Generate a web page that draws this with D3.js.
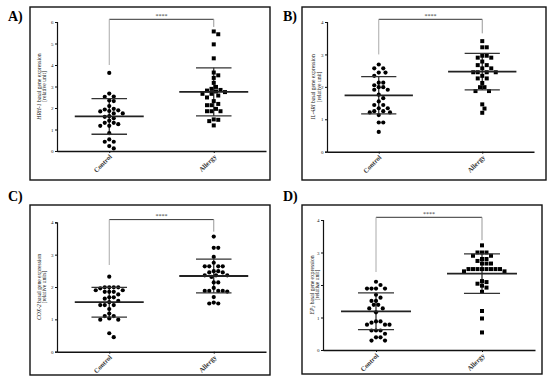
<!DOCTYPE html>
<html><head><meta charset="utf-8">
<script src="https://cdn.jsdelivr.net/npm/d3@7"></script>
<style>body{margin:0;background:#fff}svg{display:block}</style>
</head><body>
<svg id="c" width="550" height="383"></svg>
<script>
// ---------- data ----------
const categories = ["Control", "Allergy"];
const panelLabels = ["A)", "B)", "C)", "D)"];
const geneNames = ["HRH-1", "IL-4RI", "COX-2", "EP"];
const geneSub = ["", "", "", "2"];
const unitLabels = ["[relative unit]", "[relative unit]", "[relative units]", "[relative unit]"];
const yMaxes = [6, 4, 4, 4];
const yTickValues = [[0,1,2,3,4,5,6],[0,1,2,3,4],[0,1,2,3,4],[0,1,2,3,4]];
const sigLabel = "****";

const controlA = [3.63,2.67,2.53,2.52,2.35,2.32,2.09,1.96,1.93,1.89,1.84,1.86,1.75,1.75,1.62,1.59,1.52,1.41,1.31,1.31,1.25,1.17,1.17,0.83,0.54,0.43,0.43,0.23,0.12];
const allergyA = [5.56,5.43,4.96,4.31,3.65,3.52,3.40,3.17,2.98,2.89,2.84,2.81,2.77,2.74,2.66,2.66,2.58,2.49,2.32,2.19,2.13,2.13,1.96,1.85,1.85,1.85,1.47,1.45,1.39,1.19];
const controlB = [2.69,2.57,2.57,2.44,2.44,2.34,2.13,2.13,2.05,1.99,1.99,1.91,1.91,1.76,1.65,1.55,1.44,1.44,1.34,1.34,1.25,1.25,1.21,1.21,1.13,0.90,0.90,0.61];
const allergyB = [3.41,3.22,3.22,2.96,2.96,2.90,2.90,2.78,2.67,2.67,2.57,2.57,2.45,2.45,2.45,2.45,2.34,2.26,2.26,2.12,1.99,1.99,1.87,1.87,1.46,1.33,1.20];
const controlC = [2.32,1.99,1.99,1.99,1.99,1.96,1.90,1.90,1.85,1.85,1.85,1.77,1.68,1.68,1.64,1.57,1.53,1.44,1.44,1.44,1.32,1.18,1.10,1.10,1.03,0.99,0.99,0.57,0.45];
const allergyC = [3.56,3.21,3.21,2.93,2.75,2.64,2.64,2.64,2.64,2.49,2.49,2.45,2.45,2.36,2.36,2.36,2.31,2.14,2.14,1.97,1.88,1.88,1.88,1.88,1.86,1.69,1.52,1.49,1.49];
const controlD = [2.10,2.00,1.89,1.89,1.89,1.89,1.70,1.61,1.51,1.51,1.39,1.39,1.28,1.28,1.16,0.88,0.88,0.84,0.78,0.78,0.78,0.60,0.60,0.60,0.50,0.39,0.39,0.29,0.29];
const allergyD = [3.22,3.00,3.00,3.00,2.90,2.90,2.80,2.80,2.74,2.66,2.66,2.66,2.49,2.49,2.49,2.49,2.49,2.49,2.49,2.49,2.42,2.42,2.12,2.09,2.04,1.98,1.92,1.79,1.20,0.97,0.54];

const meansA = [1.61, 2.75], sdsA = [0.83, 1.12];
const meansB = [1.74, 2.47], sdsB = [0.575, 0.565];
const meansC = [1.53, 2.34], sdsC = [0.46, 0.52];
const meansD = [1.19, 2.35], sdsD = [0.565, 0.61];

// bracket drop ends (data units): [control side, allergy side]
const bracketEndsA = [4.0, 5.77];
const bracketEndsB = [3.0, 3.65];
const bracketEndsC = [2.68, 3.71];
const bracketEndsD = [2.4, 3.38];

const seriesSets = [[controlA, allergyA],[controlB, allergyB],[controlC, allergyC],[controlD, allergyD]];
const meanSets = [meansA, meansB, meansC, meansD];
const sdSets = [sdsA, sdsB, sdsC, sdsD];
const bracketSets = [bracketEndsA, bracketEndsB, bracketEndsC, bracketEndsD];

// ---------- layout ----------
const layout = [
  {box:[30,7,270,180], x0:57, x1:266, yTop:22, yBot:151, lx:8, ly:21, t1:40.5, t2:46, shapes:["circle","square"]},
  {box:[302,7,546,180], x0:327, x1:534, yTop:22, yBot:151.7, lx:283, ly:21, t1:315, t2:320.5, shapes:["circle","square"]},
  {box:[30,205,270,375], x0:57, x1:266, yTop:222.3, yBot:351.7, lx:8, ly:201, t1:40.5, t2:46, shapes:["circle","circle"]},
  {box:[302,205,542,374], x0:323, x1:535, yTop:220, yBot:350, lx:283, ly:201, t1:313.5, t2:319, shapes:["circle","square"]}
];

const svg = d3.select("#c");
const FONT = "'Liberation Serif','Times New Roman',serif";

function swarm(vals, cx, y, diam) {
  const pts = vals.map(v => ({v, y: y(v)})).sort((a,b) => a.y - b.y);
  const placed = [];
  pts.forEach(p => {
    for (let k = 0; k < 60; k++) {
      const off = k === 0 ? 0 : (k % 2 ? 1 : -1) * Math.ceil(k/2) * diam * 0.5;
      const x = cx + off;
      const ok = placed.every(q => Math.hypot(q.x - x, q.y - p.y) >= diam);
      if (ok) { p.x = x; placed.push(p); break; }
    }
  });
  return placed;
}

layout.forEach((L, i) => {
  const g = svg.append("g");
  g.append("rect").attr("x", L.box[0]).attr("y", L.box[1])
    .attr("width", L.box[2]-L.box[0]).attr("height", L.box[3]-L.box[1])
    .attr("fill", "none").attr("stroke", "#111").attr("stroke-width", 1.4);
  svg.append("text").attr("x", L.lx).attr("y", L.ly).text(panelLabels[i])
    .attr("font-family", FONT).attr("font-weight", "bold").attr("font-size", 14).attr("fill", "#000");

  const y = d3.scaleLinear().domain([0, yMaxes[i]]).range([L.yBot, L.yTop]);
  const x = d3.scalePoint().domain(categories).range([L.x0, L.x1]).padding(0.5);

  const ya = g.append("g").attr("transform", `translate(${L.x0},0)`)
    .call(d3.axisLeft(y).tickValues(yTickValues[i]).tickSize(2).tickPadding(1.5).tickFormat(d3.format("d")));
  ya.select(".domain").attr("stroke", "#111").attr("stroke-width", 1.2);
  ya.selectAll(".tick line").attr("stroke", "#111");
  ya.selectAll("text").attr("font-family", FONT).attr("font-size", 5).attr("fill", "#222");

  const xa = g.append("g").attr("transform", `translate(0,${L.yBot})`)
    .call(d3.axisBottom(x).tickSize(2).tickSizeOuter(0).tickFormat(() => ""));
  xa.select(".domain").attr("stroke", "#111").attr("stroke-width", 1.4);
  xa.selectAll(".tick line").attr("stroke", "#111");
  // rotated category labels
  categories.forEach(c => {
    g.append("text")
      .attr("transform", `translate(${x(c) + 2},${L.yBot + 5}) rotate(-45)`)
      .attr("text-anchor", "end").attr("dominant-baseline", "middle")
      .attr("font-family", FONT).attr("font-size", 6.8).attr("font-weight", "bold").attr("fill", "#333")
      .text(c);
  });

  const yMid = (L.yTop + L.yBot) / 2;
  const t1 = g.append("text").attr("transform", `translate(${L.t1},${yMid}) rotate(-90)`)
    .attr("text-anchor", "middle").attr("font-family", FONT).attr("font-size", 5.6).attr("fill", "#111");
  t1.append("tspan").attr("font-style", "italic").text(geneNames[i]);
  if (geneSub[i]) t1.append("tspan").attr("font-style", "italic").attr("font-size", 4).attr("dy", 1.5).text(geneSub[i]);
  t1.append("tspan").attr("dy", geneSub[i] ? -1.5 : 0).text(" basal gene expression");
  g.append("text").attr("transform", `translate(${L.t2},${yMid}) rotate(-90)`)
    .attr("text-anchor", "middle").attr("font-family", FONT).attr("font-size", 5.6).attr("fill", "#111")
    .text(unitLabels[i]);

  const bTop = L.yTop - 2.7;
  const cx0 = x(categories[0]), cx1 = x(categories[1]);
  g.append("line").attr("x1", cx0).attr("x2", cx1).attr("y1", bTop).attr("y2", bTop).attr("stroke", "#333").attr("stroke-width", 1);
  g.append("line").attr("x1", cx0).attr("x2", cx0).attr("y1", bTop).attr("y2", y(bracketSets[i][0])).attr("stroke", "#aaa").attr("stroke-width", 1);
  g.append("line").attr("x1", cx1).attr("x2", cx1).attr("y1", bTop).attr("y2", y(bracketSets[i][1])).attr("stroke", "#999").attr("stroke-width", 1);
  g.append("text").attr("x", (cx0+cx1)/2).attr("y", bTop - 1.5).attr("text-anchor", "middle")
    .attr("font-family", FONT).attr("font-size", 6).attr("fill", "#333").text(sigLabel);

  const step = x.step();
  categories.forEach((c, j) => {
    const cx = x(c);
    const m = meanSets[i][j], s = sdSets[i][j];
    g.append("line").attr("x1", cx).attr("x2", cx).attr("y1", y(m + s)).attr("y2", y(m - s)).attr("stroke", "#222").attr("stroke-width", 1.2);
    const pts = swarm(seriesSets[i][j], cx, y, 4.5);
    if (L.shapes[j] === "square") {
      g.selectAll(null).data(pts).enter().append("rect")
        .attr("x", d => d.x - 2).attr("y", d => d.y - 2).attr("width", 4).attr("height", 4).attr("fill", "#000");
    } else {
      g.selectAll(null).data(pts).enter().append("circle")
        .attr("cx", d => d.x).attr("cy", d => d.y).attr("r", 2.1).attr("fill", "#000");
    }
    g.append("line").attr("x1", cx - step*0.33).attr("x2", cx + step*0.33).attr("y1", y(m)).attr("y2", y(m)).attr("stroke", "#222").attr("stroke-width", 1.8);
    [m + s, m - s].forEach(v => {
      g.append("line").attr("x1", cx - step*0.17).attr("x2", cx + step*0.17).attr("y1", y(v)).attr("y2", y(v)).attr("stroke", "#333").attr("stroke-width", 1.3);
    });
  });
});
</script>
</body></html>
